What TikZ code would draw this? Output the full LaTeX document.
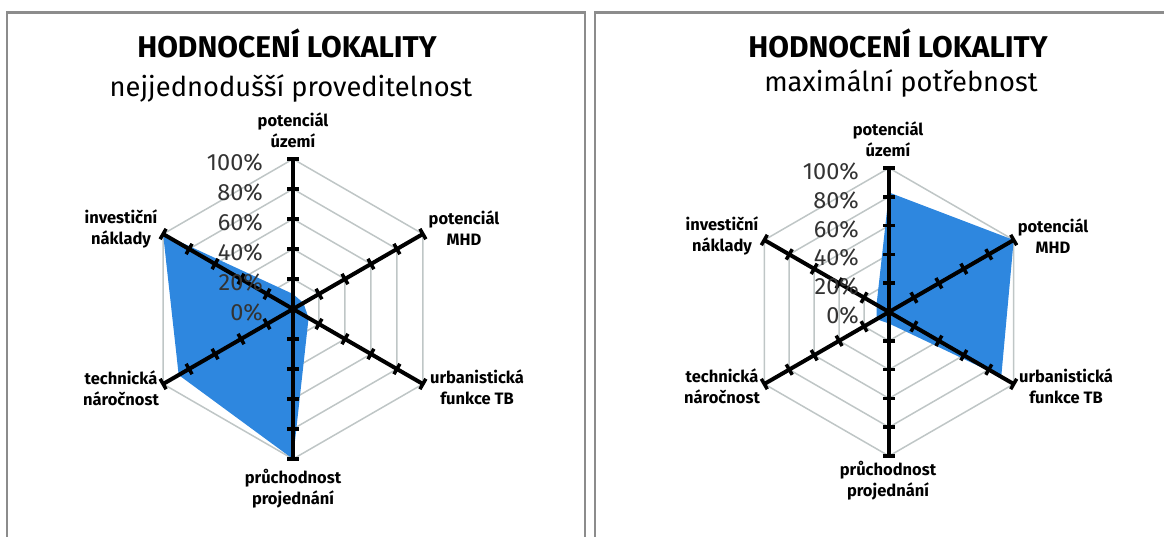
\documentclass[tikz,border=0pt]{standalone}
\usepackage{fontspec}
\setmainfont{Fira Sans}

\definecolor{gridgray}{HTML}{BFC6C6}
\definecolor{fillblue}{HTML}{2E87DF}
\definecolor{framegray}{HTML}{8C8C8C}
\definecolor{pcttext}{HTML}{333333}

\tikzset{
  panel/.style={draw=framegray, line width=2.5pt},
  gridline/.style={draw=gridgray, line width=1.5pt, line join=miter},
  spoke/.style={draw=black, line width=4pt},
  tickmark/.style={draw=black, line width=3.5pt},
  axlabel/.style={font=\bfseries\fontsize{16.5}{21}\selectfont, align=center, inner sep=0pt},
  pct/.style={font=\fontsize{23.5}{23.5}\selectfont, text=pcttext, anchor=east, inner sep=0pt},
  charttitle/.style={font=\bfseries\fontsize{30}{30}\selectfont, inner sep=0pt},
  chartsub/.style={font=\fontsize{27.3}{27.3}\selectfont, inner sep=0pt},
}

% #1 name prefix, #2 centre, #3 radius,
% #4..#9 values for the spokes at 90, 30, -30, -90, -150, 150 degrees
\newcommand\radarchart[9]{%
  \begin{scope}[shift={#2}, yscale=-1]
    \foreach \k in {1,...,5}
      \draw[gridline] (90:\k*#3/5) -- (30:\k*#3/5) -- (-30:\k*#3/5)
        -- (-90:\k*#3/5) -- (-150:\k*#3/5) -- (150:\k*#3/5) -- cycle;
    \fill[fillblue] (90:#4*#3) -- (30:#5*#3) -- (-30:#6*#3)
      -- (-90:#7*#3) -- (-150:#8*#3) -- (150:#9*#3) -- cycle;
    \foreach \a in {90,30,-30,-90,-150,150} {
      \draw[spoke] (0,0) -- (\a:#3);
      \foreach \k in {1,...,5}
        \draw[tickmark, rotate=\a] (\k*#3/5,-6) -- (\k*#3/5,6);
    }
    \foreach \k in {0,...,5} {
      \pgfmathtruncatemacro\p{20*\k}
      \node[pct] (#1-pct-\k) at (-30,\k*#3/5-3.5) {\p\%};
    }
  \end{scope}%
}

\begin{document}
\begin{tikzpicture}[x=1pt, y=-1pt]
  \useasboundingbox (0,0) rectangle (1164,536);

  % panel frames (open at the bottom edge)
  \draw[panel] (7,545) -- (7,12.5) -- (585,12.5) -- (585,545);
  \draw[panel] (595,545) -- (595,12.5) -- (1175,12.5);

  % ---- left panel ----
  \node[charttitle] (L-title) at (287,43) {HODNOCENÍ LOKALITY};
  \node[chartsub] (L-sub) at (291,88) {nejjednodušší proveditelnost};
  \radarchart{L}{(293,309)}{150}{0.10}{0.08}{0.12}{1.00}{0.88}{1.00}
  \node[axlabel] (L-uzemi) at (293,130) {potenciál\\území};
  \node[axlabel] (L-mhd) at (464,228) {potenciál\\MHD};
  \node[axlabel] (L-urb) at (477,387) {urbanistická\\funkce TB};
  \node[axlabel] (L-pruch) at (293,489) {průchodnost\\projednání};
  \node[axlabel] (L-tech) at (121,388) {technická\\náročnost};
  \node[axlabel] (L-inv) at (121,229) {investiční\\náklady};

  % ---- right panel ----
  \node[charttitle] (R-title) at (898,43) {HODNOCENÍ LOKALITY};
  \node[chartsub] (R-sub) at (901,83) {maximální potřebnost};
  \radarchart{R}{(889,312)}{144}{0.83}{1.00}{0.90}{0.08}{0.10}{0.10}
  \node[axlabel] (R-uzemi) at (888,139) {potenciál\\území};
  \node[axlabel] (R-mhd) at (1053,236) {potenciál\\MHD};
  \node[axlabel] (R-urb) at (1066,386) {urbanistická\\funkce TB};
  \node[axlabel] (R-pruch) at (888,481) {průchodnost\\projednání};
  \node[axlabel] (R-tech) at (722,386) {technická\\náročnost};
  \node[axlabel] (R-inv) at (722,236) {investiční\\náklady};
\end{tikzpicture}
\end{document}
